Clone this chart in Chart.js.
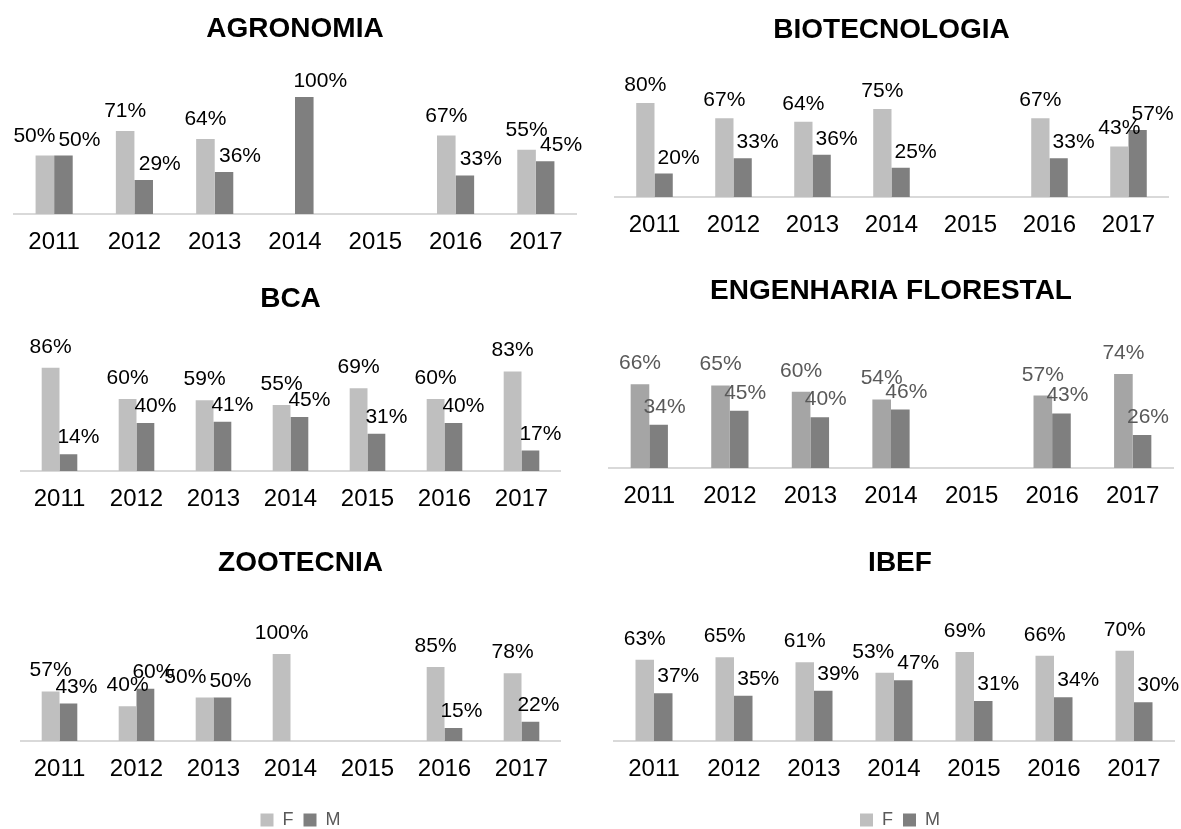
<!DOCTYPE html>
<html><head><meta charset="utf-8">
<script src="https://cdn.jsdelivr.net/npm/chart.js@4.4.1/dist/chart.umd.min.js"></script>
<style>
html,body{margin:0;padding:0;background:#fff;overflow:hidden;width:1181px;height:829px;position:relative;}
canvas{position:absolute;}
</style></head><body>
<script>
// ---- data ----
const years = ['2011','2012','2013','2014','2015','2016','2017'];
const seriesNames = ['F','M'];
const agronomiaF = [50,71,64,null,null,67,55];
const agronomiaM = [50,29,36,100,null,33,45];
const biotecnologiaF = [80,67,64,75,null,67,43];
const biotecnologiaM = [20,33,36,25,null,33,57];
const bcaF = [86,60,59,55,69,60,83];
const bcaM = [14,40,41,45,31,40,17];
const engFlorestalF = [66,65,60,54,null,57,74];
const engFlorestalM = [34,45,40,46,null,43,26];
const zootecniaF = [57,40,50,100,null,85,78];
const zootecniaM = [43,60,50,null,null,15,22];
const ibefF = [63,65,61,53,69,66,70];
const ibefM = [37,35,39,47,31,34,30];

// ---- layout / style ----
const FONT = "'Liberation Sans', Arial, Helvetica, sans-serif";
Chart.defaults.font.family = FONT;
const PAD = 30;
const panels = [
  {title:'AGRONOMIA', f:agronomiaF, m:agronomiaM, L:14, R:576, Ty:29, B:214, s:1.17, mx:16, gF:14, gM:10, legend:false, shift:0},
  {title:'BIOTECNOLOGIA', f:biotecnologiaF, m:biotecnologiaM, L:614.5, R:1167.5, Ty:30, B:197, s:1.175, mx:15, gF:12, gM:10, legend:false, shift:0},
  {title:'BCA', f:bcaF, m:bcaM, L:21, R:560, Ty:299, B:471, s:1.2, mx:10, gF:15, gM:11, legend:false, shift:0},
  {title:'ENGENHARIA FLORESTAL', f:engFlorestalF, m:engFlorestalM, L:609, R:1173, Ty:291, B:468, s:1.27, mx:6, gF:15, gM:12, legend:false, shift:0,
     cF:'#a5a5a5', cM:'#7f7f7f', lab:'#595959'},
  {title:'ZOOTECNIA', f:zootecniaF, m:zootecniaM, L:21, R:560, Ty:563, B:741, s:0.87, mx:8, gF:15, gM:11, legend:true, shift:10},
  {title:'IBEF', f:ibefF, m:ibefM, L:614, R:1174, Ty:563, B:741, s:1.29, mx:15, gF:15, gM:11, legend:true, shift:6}
];

const barLabels = {
  id: 'barLabels',
  afterDatasetsDraw(chart, args, o) {
    const ctx = chart.ctx;
    ctx.save();
    ctx.font = o.size + 'px ' + FONT;
    ctx.fillStyle = o.color;
    ctx.textAlign = 'center';
    ctx.textBaseline = 'alphabetic';
    const mF = chart.getDatasetMeta(0), mM = chart.getDatasetMeta(1);
    const dF = chart.data.datasets[0].data, dM = chart.data.datasets[1].data;
    for (let i = 0; i < dF.length; i++) {
      let f = null, m = null;
      if (dF[i] != null) { const e = mF.data[i], t = dF[i] + '%'; f = {t, x:e.x, y:e.y - o.gapF, w:ctx.measureText(t).width}; }
      if (dM[i] != null) { const e = mM.data[i], t = dM[i] + '%'; m = {t, x:e.x + o.mx, y:e.y - o.gapM, w:ctx.measureText(t).width}; }
      if (f && m && Math.abs(f.y - m.y) < 13) {
        const mLeft = m.x - m.w / 2;
        if (f.x + f.w / 2 > mLeft - 1) f.x = mLeft - 3 - f.w / 2;
      }
      [f, m].forEach(l => { if (l) ctx.fillText(l.t, l.x, l.y); });
    }
    ctx.restore();
  }
};

panels.forEach(p => {
  const top = Math.round(p.Ty - 16.8);
  const plotTop = top + 33.6;
  const axisH = p.legend ? 60 : 50;
  const legendH = p.legend ? 38 : 0;
  const extra = p.shift * 2;
  const h = Math.round(p.B - top + axisH + legendH);
  const w = Math.round(p.R - p.L + 2 * PAD + extra);
  const c = document.createElement('canvas');
  c.width = w; c.height = h;
  c.style.width = w + 'px'; c.style.height = h + 'px';
  c.style.left = (p.L - PAD) + 'px'; c.style.top = top + 'px';
  document.body.appendChild(c);
  const ymax = (p.B - plotTop) / p.s;
  new Chart(c, {
    type: 'bar',
    data: {
      labels: years,
      datasets: [
        {label: seriesNames[0], data: p.f, backgroundColor: p.cF || '#bfbfbf', borderWidth: 0, categoryPercentage: 0.4625, barPercentage: 1},
        {label: seriesNames[1], data: p.m, backgroundColor: p.cM || '#7f7f7f', borderWidth: 0, categoryPercentage: 0.4625, barPercentage: 1}
      ]
    },
    options: {
      responsive: false,
      animation: false,
      devicePixelRatio: 1,
      layout: {padding: {left: PAD, right: PAD, top: 0, bottom: 0}},
      scales: {
        x: {
          grid: {display: false, drawTicks: false},
          border: {display: true, color: '#d9d9d9', width: 2},
          ticks: {font: {size: 24}, color: '#000', padding: 14, maxRotation: 0, autoSkip: false},
          afterFit: (sc) => { sc.height = axisH; }
        },
        y: {
          display: extra > 0, position: 'right', min: 0, max: ymax,
          grid: {display: false, drawTicks: false}, border: {display: false},
          ticks: {display: false},
          afterFit: (sc) => { sc.width = extra; }
        }
      },
      plugins: {
        title: {display: true, text: p.title, color: '#000', font: {size: 28, weight: 'bold'}, padding: 0},
        legend: {
          display: p.legend, position: 'bottom',
          labels: {boxWidth: 13, boxHeight: 13, padding: 10, color: '#595959', font: {size: 18}}
        },
        tooltip: {enabled: false},
        barLabels: {size: 21, color: p.lab || '#000', mx: p.mx, gapF: p.gF, gapM: p.gM}
      }
    },
    plugins: [barLabels]
  });
});
</script>
</body></html>
